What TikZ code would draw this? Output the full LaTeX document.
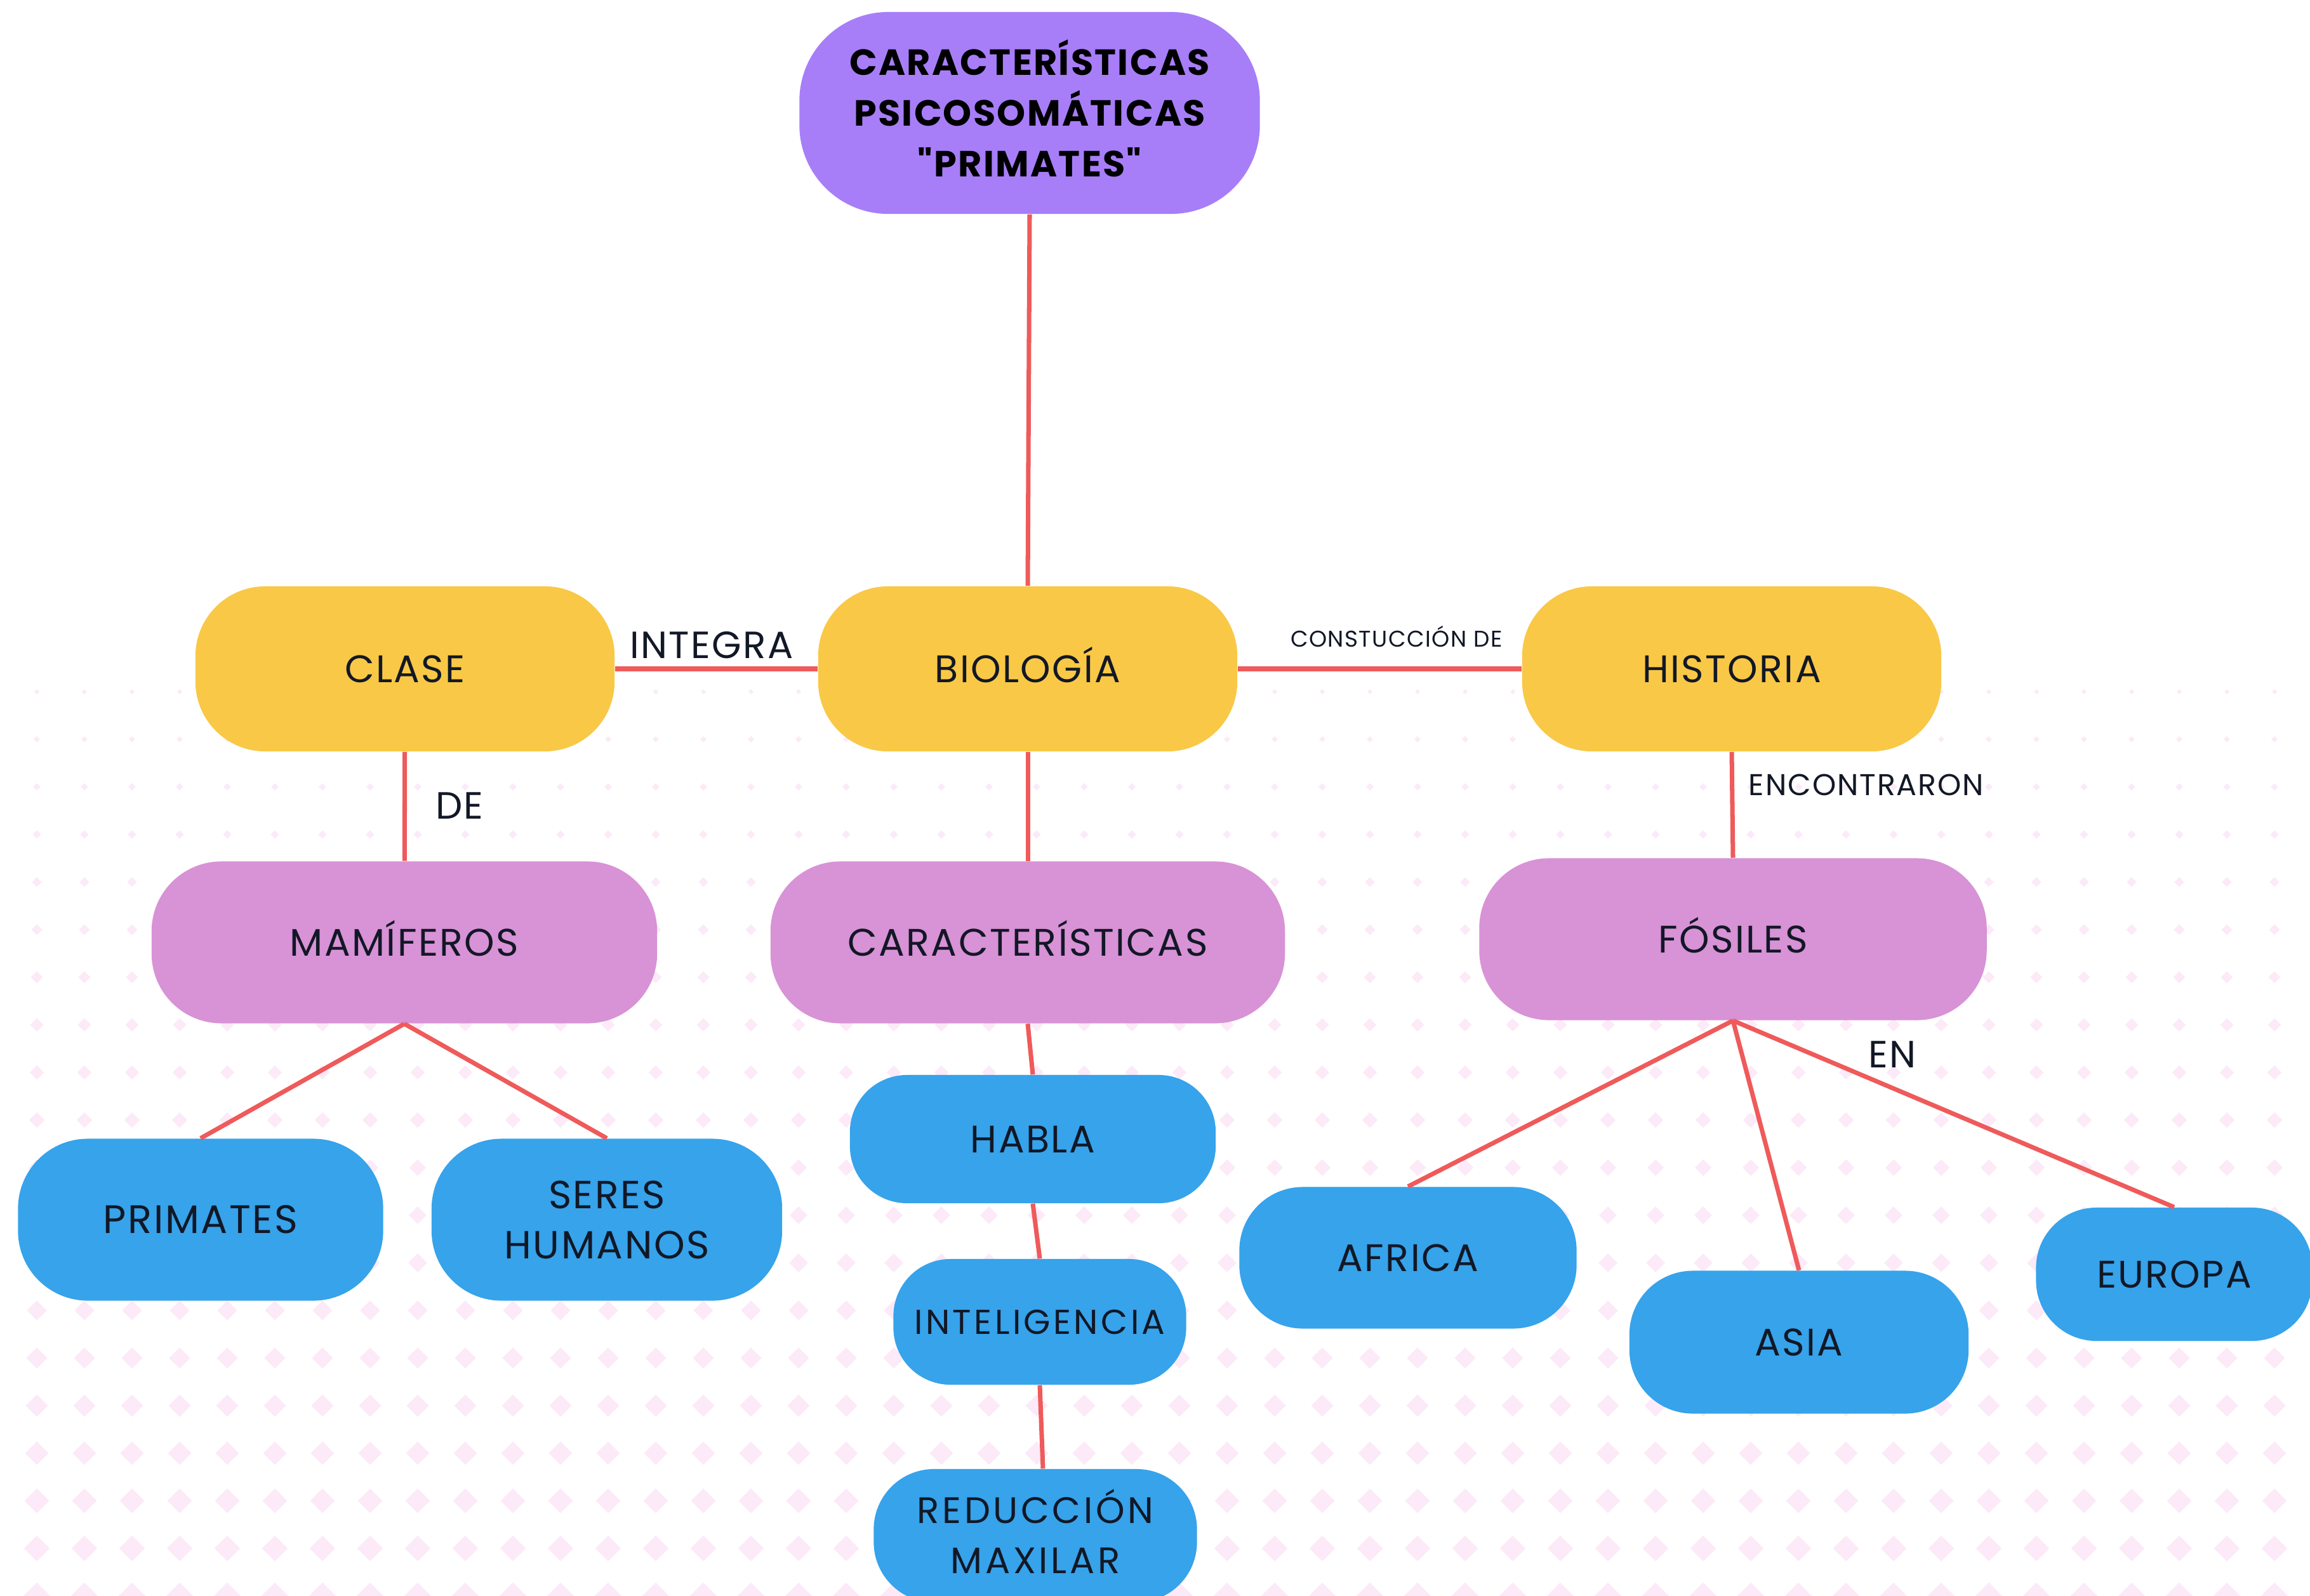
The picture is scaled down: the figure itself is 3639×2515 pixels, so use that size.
\documentclass[tikz,border=0pt]{standalone}
\usepackage{fontspec}
\setmainfont{Poppins}
\newfontfamily\cajafont[LetterSpace=4]{Poppins}
\newfontfamily\anchafont[LetterSpace=8]{Poppins}
\newfontfamily\titulofont[LetterSpace=4]{Poppins}
\definecolor{morado}{HTML}{A77EF8}
\definecolor{mostaza}{HTML}{F9C846}
\definecolor{rosa}{HTML}{D892D6}
\definecolor{azul}{HTML}{36A3EB}
\definecolor{rojo}{HTML}{EF5A5A}
\definecolor{tinta}{HTML}{121826}
\definecolor{rombo}{HTML}{FCEAF8}
\newcommand{\subir}[1]{\raisebox{0.07cm}[\height][\depth]{#1}}
\tikzset{
  caja/.style={inner sep=0pt, align=center, text=tinta, rounded corners=1.1cm,
    minimum height=2.55cm, font=\cajafont\fontsize{17.2}{22.5}\selectfont},
  recto/.style={text height=0.43cm, text depth=0pt},
  tema/.style={caja, recto, fill=mostaza, minimum width=6.6cm, minimum height=2.6cm},
  rama/.style={caja, recto, fill=rosa},
  hoja/.style={caja, fill=azul},
  enlace/.style={draw=rojo, line width=2pt},
  etiqueta/.style={inner sep=0pt, text=tinta, font=\cajafont\fontsize{17}{22.5}\selectfont}
}

\begin{document}
\begin{tikzpicture}[x=0.01cm, y=-0.01cm]
    \fill[white] (0,0) rectangle (3639,2515);
    \useasboundingbox (0,0) rectangle (3639,2515);
    % fondo de rombos
    \foreach \r in {0,...,19} {
        \pgfmathsetmacro\s{4+0.9*\r}
        \foreach \c in {0,...,48} {
            \fill[rombo] ({58+75*\c},{1090+75*\r}) +(0,-\s) -- +(\s,0) -- +(0,\s) -- +(-\s,0) -- cycle;
        }
    }
    \node[caja, fill=morado, minimum width=7.25cm, minimum height=3.18cm, rounded corners=1.4cm,
          font=\titulofont\bfseries\fontsize{16.3}{22.7}\selectfont, text=black] (titulo) at (1622,178)
          {\subir{CARACTERÍSTICAS}\\\subir{PSICOSOMÁTICAS}\\\subir{"PRIMATES"}};
    \node[tema] (clase) at (638,1054) {CLASE};
    \node[tema] (bio) at (1619,1054) {BIOLOGÍA};
    \node[tema] (hist) at (2728,1054) {HISTORIA};
    \node[rama, minimum width=7.96cm] (mam) at (637,1485) {MAMÍFEROS};
    \node[rama, minimum width=8.10cm] (car) at (1619,1485) {CARACTERÍSTICAS};
    \node[rama, minimum width=7.99cm] (fos) at (2730,1480) {FÓSILES};
    \node[hoja, recto, minimum width=5.75cm, font=\cajafont\fontsize{17.8}{22.5}\selectfont] (prim) at (316,1922) {PRIMATES};
    \node[hoja, minimum width=5.52cm, font=\cajafont\fontsize{17.6}{22.5}\selectfont] (seres) at (956,1922) {SERES\\HUMANOS};
    \node[hoja, recto, minimum width=5.76cm, minimum height=2.02cm, rounded corners=0.9cm] (habla) at (1627,1795) {HABLA};
    \node[hoja, minimum width=4.61cm, minimum height=1.98cm, rounded corners=0.9cm,
          font=\anchafont\fontsize{15.5}{20}\selectfont] (intel) at (1638,2083) {INTELIGENCIA};
    \node[hoja, minimum width=5.09cm, minimum height=2.1cm, rounded corners=0.95cm,
          font=\anchafont\fontsize{16.5}{22.7}\selectfont] (redu) at (1631,2420) {\subir{REDUCCIÓN}\\\subir{MAXILAR}};
    \node[hoja, recto, minimum width=5.31cm, minimum height=2.23cm, rounded corners=1cm] (africa) at (2218,1982) {AFRICA};
    \node[hoja, recto, minimum width=5.34cm, minimum height=2.25cm, rounded corners=1cm] (asia) at (2834,2115) {ASIA};
    \node[hoja, recto, minimum width=4.35cm, minimum height=2.1cm, rounded corners=0.95cm] (europa) at (3425,2008) {EUROPA};
    % enlaces
    \draw[enlace] (titulo.south) -- (bio.north);
    \draw[enlace] (clase) -- (bio);
    \draw[enlace] (bio) -- (hist);
    \draw[enlace] (clase) -- (mam);
    \draw[enlace] (bio) -- (car);
    \draw[enlace] (hist.south) -- (fos.north);
    \draw[enlace] (mam.south) -- (prim.north);
    \draw[enlace] (mam.south) -- (seres.north);
    \draw[enlace] (car.south) -- (habla.north);
    \draw[enlace] (habla.south) -- (intel.north);
    \draw[enlace] (intel.south) -- ([xshift=0.12cm]redu.north);
    \draw[enlace] (fos.south) -- (africa.north);
    \draw[enlace] (fos.south) -- (asia.north);
    \draw[enlace] (fos.south) -- (europa.north);
    % etiquetas
    \node[etiqueta] (integra) at (1121,1017) {INTEGRA};
    \node[etiqueta, font=\cajafont\fontsize{10.2}{12}\selectfont] (constr) at (2200,1003) {CONSTUCCIÓN DE};
    \node[etiqueta] (de) at (724,1270) {DE};
    \node[etiqueta, font=\cajafont\fontsize{13.5}{16}\selectfont] (encon) at (2940,1237) {ENCONTRARON};
    \node[etiqueta] (en) at (2981,1662) {EN};
\end{tikzpicture}
\end{document}
